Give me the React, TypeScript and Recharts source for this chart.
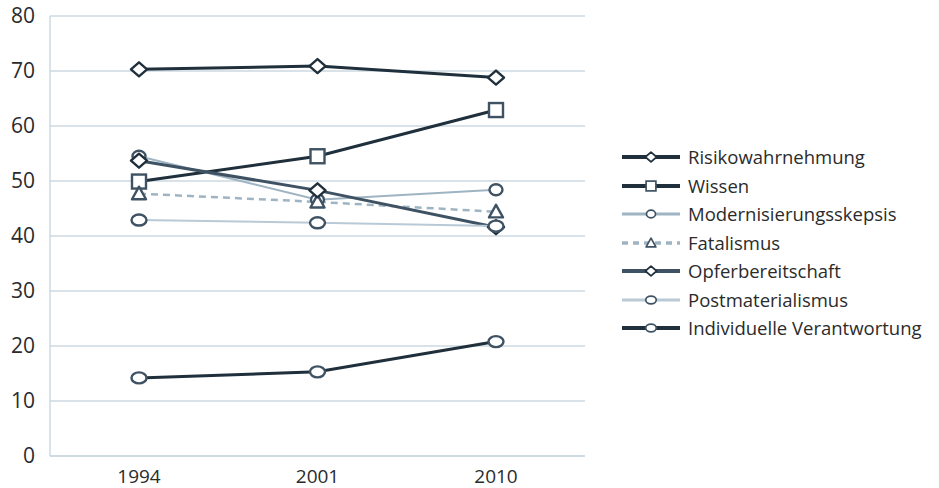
import React from "react";
import { LineChart, Line, XAxis, YAxis, CartesianGrid } from "recharts";

const years = ["1994", "2001", "2010"];
const risikowahrnehmung = [70.3, 70.9, 68.8];
const wissen = [49.9, 54.5, 62.9];
const modernisierungsskepsis = [54.5, 46.6, 48.4];
const fatalismus = [47.7, 46.2, 44.4];
const opferbereitschaft = [53.7, 48.3, 41.6];
const postmaterialismus = [42.9, 42.4, 41.8];
const individuelleVerantwortung = [14.2, 15.3, 20.8];
const yTicks = [0, 10, 20, 30, 40, 50, 60, 70, 80];

const DARK = "#1f2f3b";
const MID = "#3e5263";
const LIGHT = "#9fb4c3";
const LIGHTER = "#b9cad6";
const GRID = "#cbd8e1";
const FONT = "'Open Sans', 'Noto Sans', sans-serif";

type Shape = "circle" | "square" | "diamond" | "triangle" | "ellipse";

const seriesDefs: { key: string; name: string; values: number[]; stroke: string; width: number; dash?: string; shape: Shape; markerStroke: string }[] = [
  { key: "risk", name: "Risikowahrnehmung", values: risikowahrnehmung, stroke: DARK, width: 3, shape: "diamond", markerStroke: DARK },
  { key: "wissen", name: "Wissen", values: wissen, stroke: DARK, width: 3, shape: "square", markerStroke: MID },
  { key: "modern", name: "Modernisierungsskepsis", values: modernisierungsskepsis, stroke: LIGHT, width: 2, shape: "circle", markerStroke: MID },
  { key: "fatal", name: "Fatalismus", values: fatalismus, stroke: LIGHT, width: 2.5, dash: "7 5", shape: "triangle", markerStroke: MID },
  { key: "opfer", name: "Opferbereitschaft", values: opferbereitschaft, stroke: MID, width: 3, shape: "diamond", markerStroke: DARK },
  { key: "postmat", name: "Postmaterialismus", values: postmaterialismus, stroke: LIGHTER, width: 2, shape: "ellipse", markerStroke: MID },
  { key: "indiv", name: "Individuelle Verantwortung", values: individuelleVerantwortung, stroke: DARK, width: 3, shape: "ellipse", markerStroke: MID },
];

const data = years.map((y, i) => {
  const row: Record<string, number | string> = { year: y };
  seriesDefs.forEach((s) => (row[s.key] = s.values[i]));
  return row;
});

function Marker({ cx, cy, shape, stroke, scale = 1 }: { cx: number; cy: number; shape: Shape; stroke: string; scale?: number }) {
  const sw = 2.4 * scale;
  if (shape === "square") {
    const h = 7 * scale;
    return <rect x={cx - h} y={cy - h} width={2 * h} height={2 * h} fill="#fff" stroke={stroke} strokeWidth={sw} />;
  }
  if (shape === "diamond") {
    const h = 7 * scale;
    return (
      <path
        d={`M${cx},${cy - h} L${cx + h * 1.15},${cy} L${cx},${cy + h} L${cx - h * 1.15},${cy} Z`}
        fill="#fff"
        stroke={stroke}
        strokeWidth={sw}
        strokeLinejoin="round"
      />
    );
  }
  if (shape === "triangle") {
    const h = 7 * scale;
    return (
      <path
        d={`M${cx},${cy - h} L${cx + h},${cy + h * 0.8} L${cx - h},${cy + h * 0.8} Z`}
        fill="#fff"
        stroke={stroke}
        strokeWidth={sw}
        strokeLinejoin="round"
      />
    );
  }
  if (shape === "ellipse") {
    return <ellipse cx={cx} cy={cy} rx={7.5 * scale} ry={5.5 * scale} fill="#fff" stroke={stroke} strokeWidth={sw} />;
  }
  return <ellipse cx={cx} cy={cy} rx={6.5 * scale} ry={5.5 * scale} fill="#fff" stroke={stroke} strokeWidth={sw} />;
}

function LegendContent() {
  return (
    <div style={{ fontFamily: FONT, fontSize: 18.5, color: "#2b2b2b" }}>
      {seriesDefs.map((s) => (
        <div key={s.key} style={{ display: "flex", alignItems: "center", height: 28.5 }}>
          <svg width={62} height={20} style={{ marginRight: 6 }}>
            <line x1={2} y1={10} x2={60} y2={10} stroke={s.stroke} strokeWidth={s.width + 1} strokeDasharray={s.dash ? "6 5" : undefined} />
            <Marker cx={31} cy={10} shape={s.shape} stroke={s.markerStroke} scale={0.7} />
          </svg>
          <span style={{ whiteSpace: "nowrap", lineHeight: "20px" }}>{s.name}</span>
        </div>
      ))}
    </div>
  );
}

export default function App() {
  return (
    <div style={{ position: "absolute", left: 0, top: 0, width: 939, height: 488, background: "#fff", overflow: "hidden" }}>
      <LineChart width={939} height={488} data={data} margin={{ top: 16, right: 354, bottom: 2, left: 0 }}>
        <CartesianGrid vertical={false} stroke={GRID} strokeWidth={1.5} />
        <XAxis
          dataKey="year"
          stroke={GRID}
          strokeWidth={1.5}
          tickLine={false}
          tickSize={0}
          tickMargin={14}
          height={30}
          padding={{ left: 89, right: 89 }}
          tick={{ fill: "#2b2b2b", fontSize: 19, fontFamily: FONT }}
        />
        <YAxis
          domain={[0, 80]}
          ticks={yTicks}
          width={50}
          stroke={GRID}
          strokeWidth={1.5}
          tickLine={false}
          tickSize={0}
          tickMargin={15}
          interval={0}
          tick={{ fill: "#2b2b2b", fontSize: 21, fontFamily: FONT }}
        />
        {seriesDefs.map((s) => (
          <Line
            key={s.key}
            dataKey={s.key}
            name={s.name}
            type="linear"
            stroke={s.stroke}
            strokeWidth={s.width}
            strokeDasharray={s.dash}
            isAnimationActive={false}
            dot={(p: any) => <Marker key={`${s.key}-${p.index}`} cx={p.cx} cy={p.cy} shape={s.shape} stroke={s.markerStroke} />}
            activeDot={false}
          />
        ))}
      </LineChart>
      <div style={{ position: "absolute", left: 620, top: 143 }}>
        <LegendContent />
      </div>
    </div>
  );
}
